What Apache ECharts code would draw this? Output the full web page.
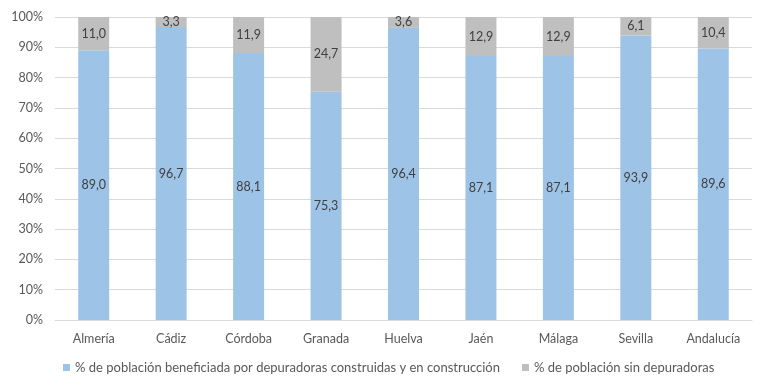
<!DOCTYPE html>
<html><head><meta charset="utf-8">
<script src="https://cdn.jsdelivr.net/npm/echarts@6/dist/echarts.min.js"></script>
<style>html,body{margin:0;padding:0;background:#fff}#c{width:768px;height:392px}</style>
</head><body><div id="c"></div>
<script>
const categories = ['Almería','Cádiz','Córdoba','Granada','Huelva','Jaén','Málaga','Sevilla','Andalucía'];
const beneficiada = [89.0, 96.7, 88.1, 75.3, 96.4, 87.1, 87.1, 93.9, 89.6];
const sinDepuradoras = [11.0, 3.3, 11.9, 24.7, 3.6, 12.9, 12.9, 6.1, 10.4];
const seriesNames = ['% de población beneficiada por depuradoras construidas y en construcción', '% de población sin depuradoras'];
const yTicks = [0,10,20,30,40,50,60,70,80,90,100];

const font = 'Lato, "Open Sans", sans-serif';
const txt = '#595959';
const fmt = v => v.toFixed(1).replace('.', ',');
const chart = echarts.init(document.getElementById('c'));
chart.setOption({
  animation: false,
  textStyle: {fontFamily: font},
  grid: {left: 55, right: 16, top: 17, bottom: 72},
  legend: {
    bottom: 13, left: 58, itemWidth: 7, itemHeight: 7, itemGap: 22, icon: 'rect',
    textStyle: {color: txt, fontSize: 13, fontFamily: font},
    data: seriesNames
  },
  xAxis: {
    type: 'category', data: categories,
    axisLine: {lineStyle: {color: '#D9D9D9'}}, axisTick: {show: false},
    axisLabel: {color: txt, fontSize: 12.5, margin: 12, fontFamily: font}
  },
  yAxis: {
    type: 'value', min: 0, max: 100, interval: 10,
    axisLabel: {color: txt, fontSize: 12.5, margin: 12, fontFamily: font,
      formatter: v => yTicks.includes(v) ? v + '%' : ''},
    splitLine: {lineStyle: {color: '#D9D9D9', width: 1}},
    axisLine: {show: false}, axisTick: {show: false}
  },
  series: [
    {name: seriesNames[0], type: 'bar', stack: 's', data: beneficiada, barWidth: '40%',
     itemStyle: {color: '#9DC3E6'},
     label: {show: true, position: 'inside', color: '#404040', fontSize: 12.5, fontFamily: font, formatter: p => fmt(p.value)}},
    {name: seriesNames[1], type: 'bar', stack: 's', data: sinDepuradoras, barWidth: '40%',
     itemStyle: {color: '#BFBFBF'},
     label: {show: true, position: 'inside', color: '#404040', fontSize: 12.5, fontFamily: font, formatter: p => fmt(p.value)}}
  ]
});
</script></body></html>
